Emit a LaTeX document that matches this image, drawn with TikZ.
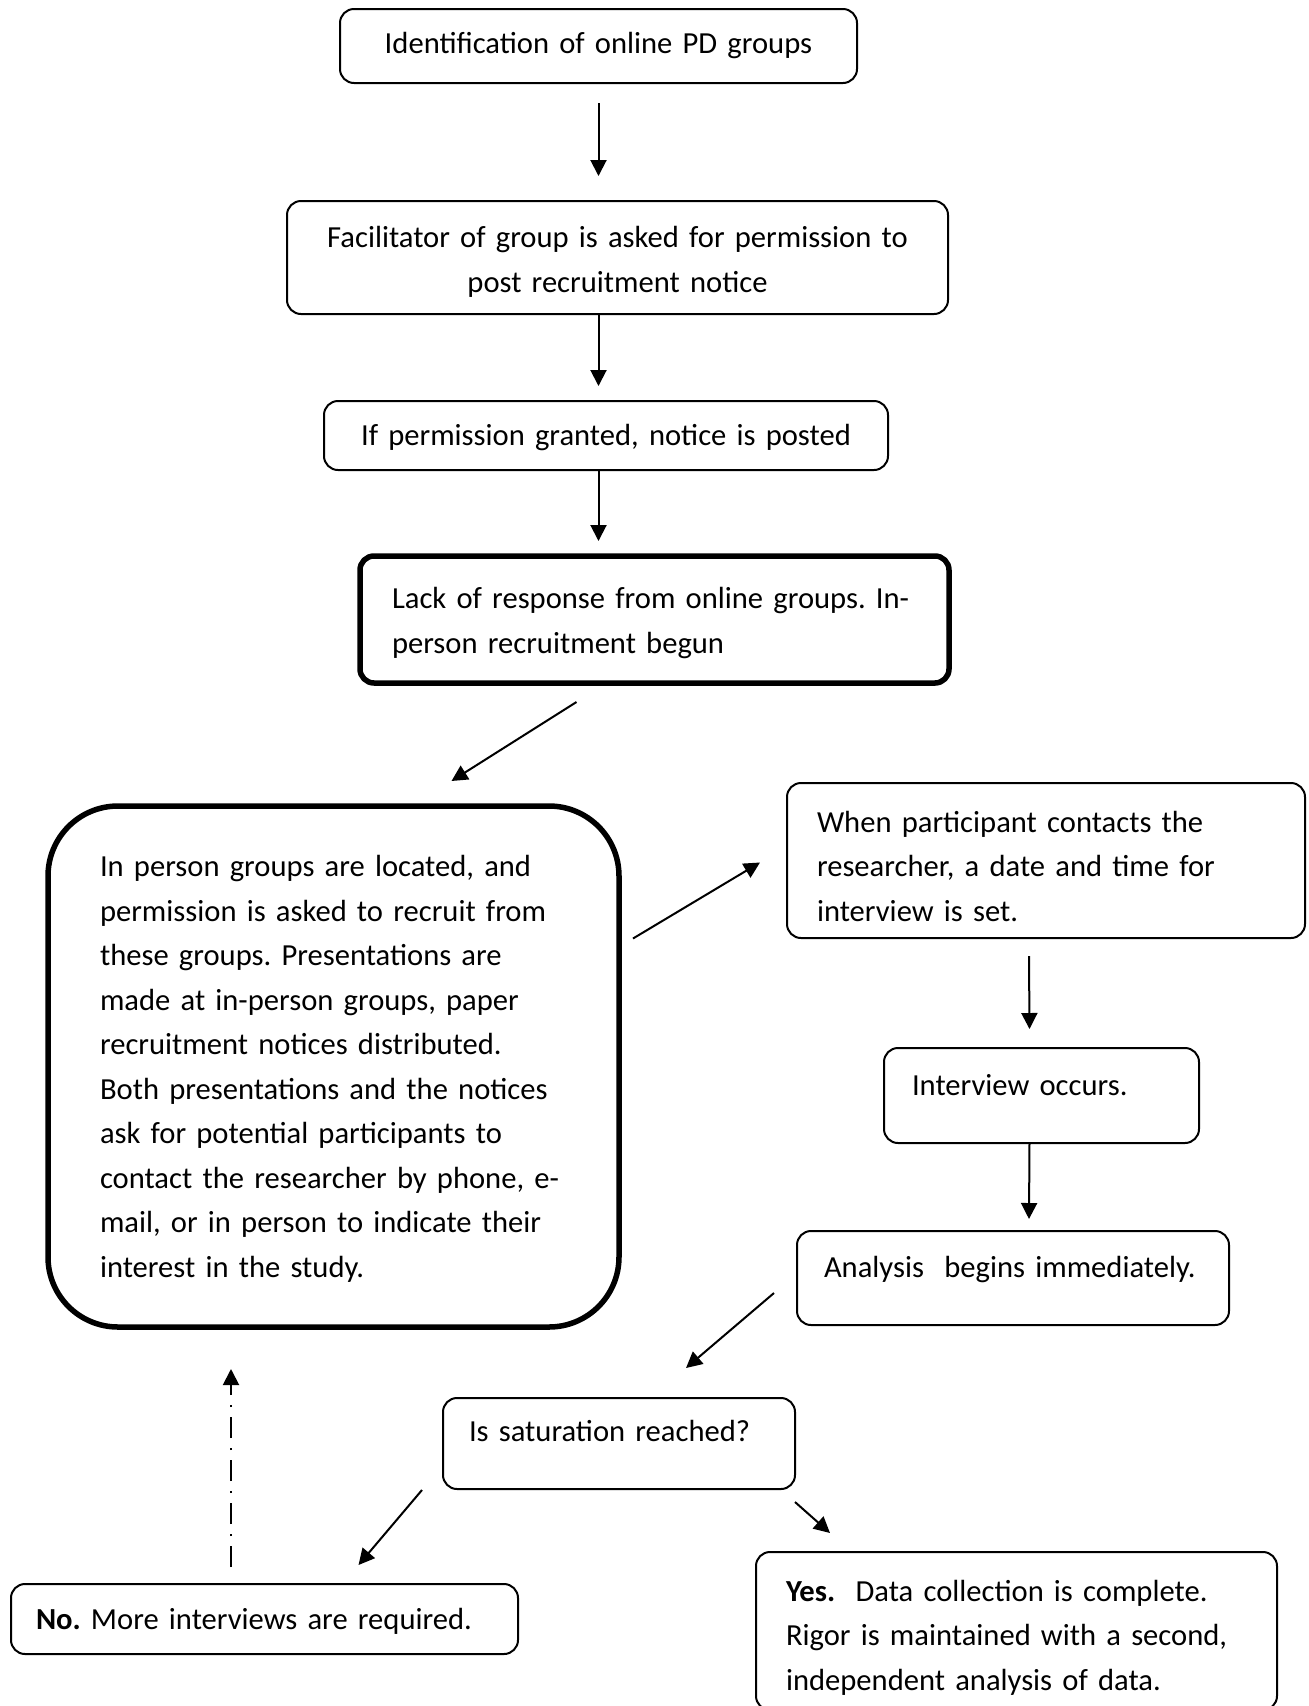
\documentclass[tikz,border=0pt]{standalone}
\usepackage{fontspec}
\setmainfont{Carlito}
\usetikzlibrary{positioning, calc, arrows.meta}

\begin{document}
\frenchspacing
\begin{tikzpicture}[x = 1pt, y = 1pt, line width = 2pt,
  stage/.style={draw, rounded corners = 14pt, anchor = north west, outer sep = 0pt, inner ysep = 0pt, font = \fontsize{30.6}{44.5}\selectfont\frenchspacing},
  heavy/.style={stage, line width = 5.5pt},
  arr/.style={-{Triangle[length = 16pt, width = 16pt]}, line width = 2pt}]
  \useasboundingbox (0,0) rectangle (1309,-1706);

  % nodes
  \node [stage, align = center, text width = 477pt, inner xsep = 20pt, minimum height = 74pt] (ident) at (340,-9) {Identification of online PD groups};
  \node [stage, align = center, text width = 621pt, inner xsep = 20pt, minimum height = 113pt, text height = 30pt] (facil) at (287,-201) {Facilitator of group is asked for permission to\\ post recruitment notice};
  \node [stage, align = center, text width = 524pt, inner xsep = 20pt, minimum height = 69pt, text height = 26pt] (posted) at (324,-401) {If permission granted, notice is posted};
  \node [heavy, align = left, text width = 525pt, inner xsep = 32pt, minimum height = 127pt, text height = 28pt] (lack) at (360,-556) {Lack of response from online groups. In-\\ person recruitment begun};
  \node [heavy, rounded corners = 70pt, align = left, text width = 467pt, inner xsep = 52pt, minimum height = 521pt, text height = 26pt] (inperson) at (48,-806) {In person groups are located, and\\ permission is asked to recruit from\\ these groups. Presentations are\\ made at in-person groups, paper\\ recruitment notices distributed.\\ Both presentations and the notices\\ ask for potential participants to\\ contact the researcher by phone, e-\\ mail, or in person to indicate their\\ interest in the study.};
  \node [stage, align = left, text width = 458pt, inner xsep = 30pt, minimum height = 155pt, text height = 33pt] (contact) at (787,-783) {When participant contacts the\\ researcher, a date and time for\\ interview is set.};
  \node [stage, align = left, text width = 259pt, inner xsep = 28pt, minimum height = 95pt, text height = 28pt, text depth = 28pt] (occurs) at (884,-1048) {Interview occurs.};
  \node [stage, align = left, text width = 378pt, inner xsep = 27pt, minimum height = 94pt, text height = 28pt, text depth = 30pt] (analysis) at (797,-1231) {Analysis\ \ begins immediately.};
  \node [stage, align = left, text width = 300pt, inner xsep = 26pt, minimum height = 91pt, text height = 28pt, text depth = 32pt] (saturation) at (443,-1398) {Is saturation reached?};
  \node [stage, align = left, text width = 457pt, inner xsep = 25pt, minimum height = 70pt, text height = 26pt] (no) at (11,-1584) {\textbf{No.} More interviews are required.};
  \node [stage, align = left, text width = 461pt, inner xsep = 30pt, minimum height = 158pt, text height = 34pt] (yes) at (756,-1552) {\textbf{Yes.}\ \ Data collection is complete.\\ Rigor is maintained with a second,\\ independent analysis of data.};

  % edges
  \draw [arr] ($(ident.south)+(0,-20)$) to ($(ident.south |- facil.north)+(0,25)$);
  \draw [arr] (ident.south |- facil.south) to ($(ident.south |- posted.north)+(0,15)$);
  \draw [arr] (ident.south |- posted.south) to ($(ident.south |- lack.north)+(0,15)$);
  \draw [arr] ($(lack.south)+(-78,-19)$) to ($(inperson.north)+(118,25)$);
  \draw [arr] ($(inperson.east)+(14,128)$) to ($(contact.west)+(-27,-2)$);
  \draw [arr] ($(contact.south)+(-17,-18)$) to ($(occurs.north)+(-12,19)$);
  \draw [arr] ($(occurs.south)+(-12,0)$) to ($(analysis.north)+(16,12)$);
  \draw [arr] ($(analysis.west)+(-23,-15)$) to ($(saturation.north)+(67,30)$);
  \draw [arr] ($(saturation.south west)+(-21,-1)$) to ($(no.north)+(94,19)$);
  \draw [arr] ($(saturation.south east)+(0,-13)$) to ($(yes.north west)+(74,19)$);
  \draw [arr, dash pattern = on 21pt off 10pt on 2pt off 10pt] ($(no.north west)+(220,17)$) to ($(inperson.south west)+(183,-42)$);
\end{tikzpicture}
\end{document}
